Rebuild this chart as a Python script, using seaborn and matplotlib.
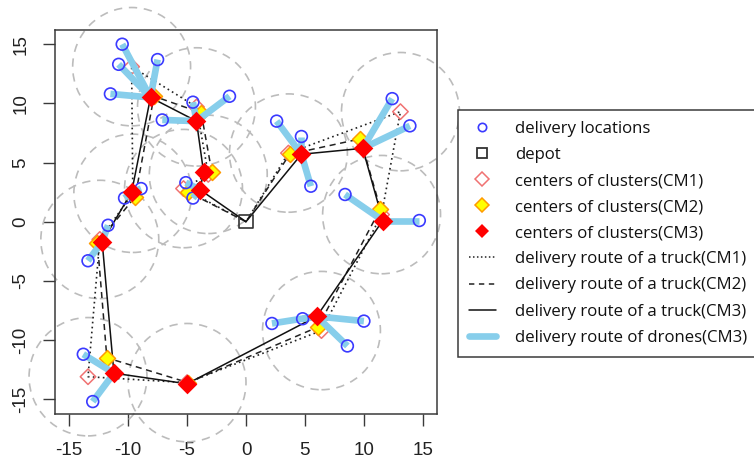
import numpy as np
import pandas as pd
import matplotlib
matplotlib.use("Agg")
import matplotlib.pyplot as plt
import seaborn as sns
from matplotlib.lines import Line2D
from matplotlib.patches import Circle

# ---------------- data (route order: depot -> clusters -> depot) ----------------
clusters = ["C2", "C1", "B", "A", "D", "E", "F", "G", "H", "K", "J", "I"]

cm1_x = [-5.3, -3.2, -4.2, -9.7, -9.6, -12.4, -13.4, -5.0, 6.4, 11.5, 13.1, 3.6]
cm1_y = [2.8, 4.0, 9.7, 13.1, 2.4, -1.5, -13.1, -13.6, -9.2, 0.6, 9.3, 5.8]

cm2_x = [-4.9, -2.9, -3.8, -7.8, -9.4, -12.6, -11.8, -4.9, 6.1, 11.4, 9.7, 3.7]
cm2_y = [2.5, 4.2, 9.2, 10.6, 2.1, -1.8, -11.5, -13.6, -8.9, 1.1, 7.0, 5.7]

cm3_x = [-3.9, -3.6, -4.2, -8.1, -9.7, -12.2, -11.2, -5.0, 6.0, 11.6, 9.9, 4.7]
cm3_y = [2.7, 4.2, 8.5, 10.5, 2.5, -1.7, -12.8, -13.7, -8.0, 0.1, 6.2, 5.7]

deliv_cluster = ["C2", "C2",
                 "B", "B", "B",
                 "A", "A", "A", "A",
                 "D", "D",
                 "E", "E",
                 "F", "F",
                 "H", "H", "H", "H",
                 "K", "K",
                 "J", "J",
                 "I", "I", "I"]
deliv_x = [-5.1, -4.5,
           -1.4, -7.1, -4.5,
           -10.5, -10.8, -7.5, -11.5,
           -8.9, -10.3,
           -11.7, -13.4,
           -13.8, -13.0,
           2.2, 4.8, 10.0, 8.6,
           8.4, 14.7,
           12.4, 13.9,
           2.6, 4.7, 5.5]
deliv_y = [3.3, 2.0,
           10.6, 8.6, 10.1,
           15.0, 13.3, 13.7, 10.8,
           2.8, 2.0,
           -0.3, -3.3,
           -11.2, -15.2,
           -8.6, -8.2, -8.4, -10.5,
           2.3, 0.1,
           10.4, 8.1,
           8.5, 7.2, 3.0]

depot_x = [0.0]
depot_y = [0.0]
radius = 5.0

tick_vals = [-15, -10, -5, 0, 5, 10, 15]

legend_labels = ["delivery locations", "depot",
                 "centers of clusters(CM1)", "centers of clusters(CM2)",
                 "centers of clusters(CM3)",
                 "delivery route of a truck(CM1)", "delivery route of a truck(CM2)",
                 "delivery route of a truck(CM3)", "delivery route of drones(CM3)"]

# ---------------- styling ----------------
sns.set_theme(style="ticks")
plt.rcParams["font.family"] = ["Liberation Sans", "DejaVu Sans"]

BLUE = "#3a3aff"
CM1C = "#f07272"
CM2F = "#ffff00"
CM2E = "#ff9a00"
CM3C = "#ff0000"
DRONE = "#87ceeb"
CIRC = "#bcbcbc"
FRAME = "#3a3a3a"

W, H = 754, 458
fig = plt.figure(figsize=(W / 100, H / 100), dpi=100)
ax = fig.add_axes([55 / W, 1 - 414 / H, (437 - 55) / W, (414 - 30) / H])

# circles around CM1 centers
for cx, cy in zip(cm1_x, cm1_y):
    ax.add_patch(Circle((cx, cy), radius, fill=False, ec=CIRC, lw=1.2,
                        ls=(0, (5, 4)), clip_on=False, zorder=1))

# truck routes
def route_df(xs, ys):
    return pd.DataFrame({"x": depot_x + list(xs) + depot_x,
                         "y": depot_y + list(ys) + depot_y})

r1 = route_df(cm1_x, cm1_y)
r2 = route_df(cm2_x, cm2_y)
r3 = route_df(cm3_x, cm3_y)
sns.lineplot(data=r1, x="x", y="y", sort=False, estimator=None, ax=ax,
             color="#222222", lw=1.2, linestyle=(0, (1, 2)), zorder=2)
sns.lineplot(data=r2, x="x", y="y", sort=False, estimator=None, ax=ax,
             color="#222222", lw=1.1, linestyle=(0, (4, 3)), zorder=2)
sns.lineplot(data=r3, x="x", y="y", sort=False, estimator=None, ax=ax,
             color="#111111", lw=1.1, linestyle="-", zorder=2)

# CM1
sns.scatterplot(x=cm1_x, y=cm1_y, ax=ax, marker="D", s=62, zorder=2.5,
                color=CM1C, linewidth=1.1)
ax.collections[-1].set_facecolor("none")
ax.collections[-1].set_edgecolor(CM1C)

# CM2
sns.scatterplot(x=cm2_x, y=cm2_y, ax=ax, marker="D", s=66, zorder=2.6,
                color=CM2F, linewidth=1.1)
ax.collections[-1].set_facecolor(CM2F)
ax.collections[-1].set_edgecolor(CM2E)

# drone routes
cen = dict(zip(clusters, zip(cm3_x, cm3_y)))
rows = []
for i, (c, dx, dy) in enumerate(zip(deliv_cluster, deliv_x, deliv_y)):
    rows.append({"seg": i, "x": cen[c][0], "y": cen[c][1]})
    rows.append({"seg": i, "x": dx, "y": dy})
drone_df = pd.DataFrame(rows)
sns.lineplot(data=drone_df, x="x", y="y", units="seg", estimator=None, sort=False,
             ax=ax, color=DRONE, lw=4.8, zorder=3, solid_capstyle="butt")

# delivery points
sns.scatterplot(x=deliv_x, y=deliv_y, ax=ax, marker="o", s=72, zorder=4,
                color=BLUE, linewidth=1.2)
ax.collections[-1].set_facecolor("none")
ax.collections[-1].set_edgecolor(BLUE)

# depot
sns.scatterplot(x=depot_x, y=depot_y, ax=ax, marker="s", s=90, zorder=4,
                color="#333333", linewidth=1.2)
ax.collections[-1].set_facecolor("none")
ax.collections[-1].set_edgecolor("#333333")

# CM3
sns.scatterplot(x=cm3_x, y=cm3_y, ax=ax, marker="D", s=100, zorder=7,
                color=CM3C, linewidth=0)
ax.collections[-1].set_facecolor(CM3C)
ax.collections[-1].set_edgecolor(CM3C)

# axes
ax.set_xlim(-16.2, 16.2)
ax.set_ylim(-16.25, 16.2)
ax.set_xticks(tick_vals)
ax.set_yticks(tick_vals)
ax.set_xticklabels([str(v) for v in tick_vals])
ax.set_yticklabels([str(v) for v in tick_vals], rotation=90, va="center")
ax.set_xlabel("")
ax.set_ylabel("")
for sp in ax.spines.values():
    sp.set_visible(True)
    sp.set_color(FRAME)
    sp.set_linewidth(1.1)
ax.tick_params(axis="both", direction="out", length=8.5, width=1.0,
               color=FRAME, labelsize=13.5, labelcolor="#222222")
ax.tick_params(axis="x", pad=12)
ax.tick_params(axis="y", pad=10)

# legend
handles = [
    Line2D([], [], ls="none", marker="o", ms=6, mfc="none", mec=BLUE, mew=1.2),
    Line2D([], [], ls="none", marker="s", ms=7.5, mfc="none", mec="#333333", mew=1.3),
    Line2D([], [], ls="none", marker="D", ms=7, mfc="none", mec=CM1C, mew=1.1),
    Line2D([], [], ls="none", marker="D", ms=7, mfc=CM2F, mec=CM2E, mew=1.1),
    Line2D([], [], ls="none", marker="D", ms=7.5, mfc=CM3C, mec=CM3C, mew=0),
    Line2D([], [], color="#222222", lw=1.1, ls=(0, (1, 1.6))),
    Line2D([], [], color="#222222", lw=1.1, ls=(0, (3.5, 3))),
    Line2D([], [], color="#111111", lw=1.1, ls="-"),
    Line2D([], [], color=DRONE, lw=4.8),
]
leg = fig.legend(handles, legend_labels, loc="upper left",
                 bbox_to_anchor=(458 / W, 1 - 110 / H), bbox_transform=fig.transFigure,
                 borderaxespad=0, frameon=True, fancybox=False, edgecolor=FRAME,
                 framealpha=1, facecolor="white", handlelength=1.6, handletextpad=1.13,
                 borderpad=0.65, labelspacing=0.6,
                 prop={"family": ["Open Sans", "DejaVu Sans"], "size": 12.1})
leg.get_frame().set_linewidth(1.1)
for t in leg.get_texts():
    t.set_color("#111111")

fig.savefig("out.png", dpi=100)
